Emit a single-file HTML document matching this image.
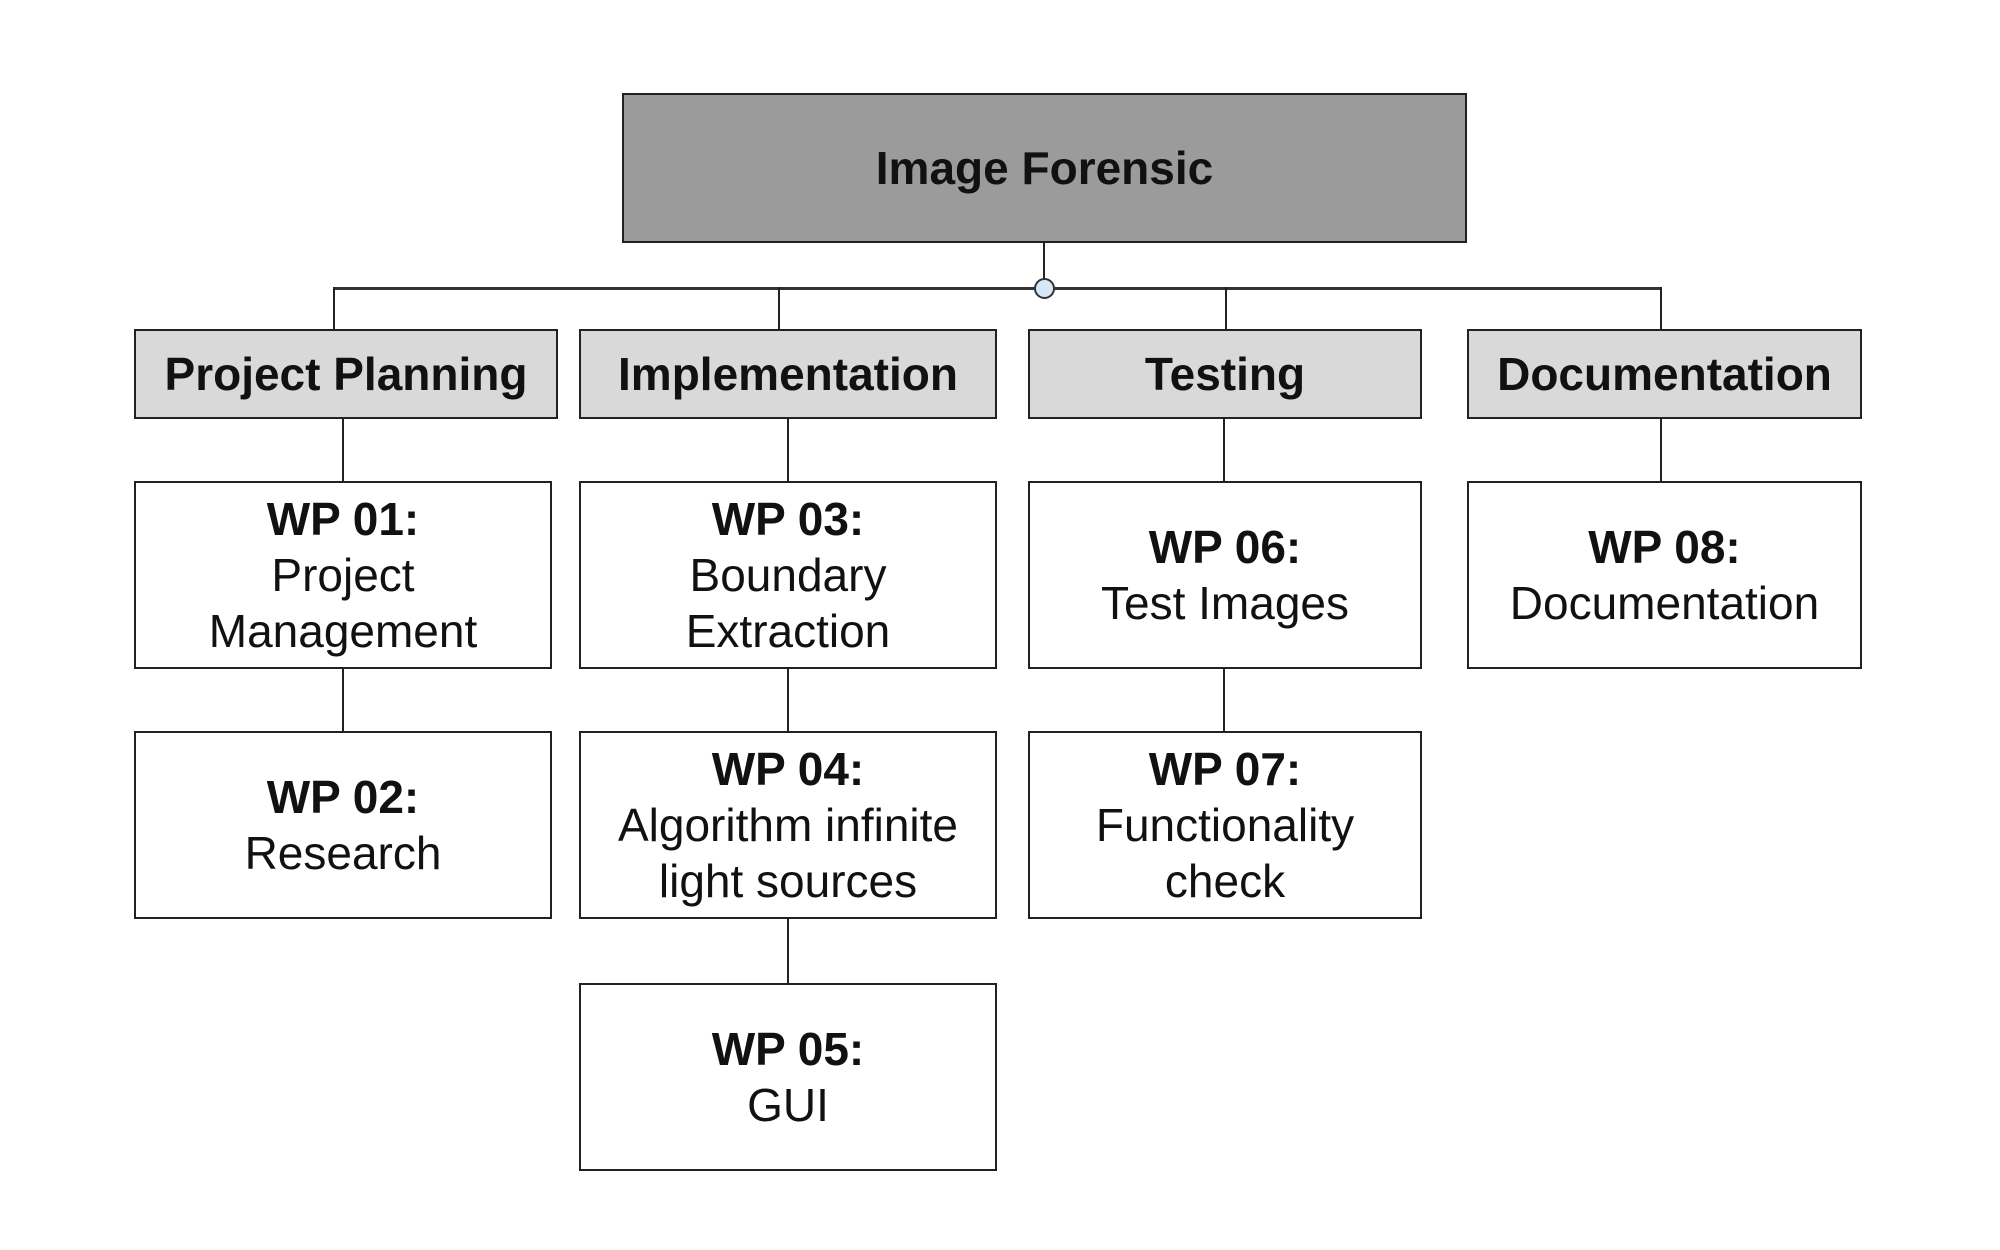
<!DOCTYPE html>
<html><head><meta charset="utf-8"><style>
body{margin:0;width:2000px;height:1250px;background:#fff;position:relative;overflow:hidden;font-family:"Liberation Sans",Arial,sans-serif;color:#111}
.b{position:absolute;box-sizing:border-box;border:2.5px solid #222;display:flex;flex-direction:column;align-items:center;justify-content:center;text-align:center;font-size:46px;line-height:56px;background:#fff}
.h{background:#d9d9d9;font-weight:bold}
.t{background:#9b9b9b;font-weight:bold}
b{font-weight:bold}
.l{position:absolute;background:#222}
</style></head><body>
<div class="l" style="left:1043px;top:242px;width:2px;height:46px"></div>
<div class="l" style="left:333px;top:287px;width:1328px;height:2.5px;background:#333"></div>
<div class="l" style="left:333px;top:287px;width:2px;height:43px"></div>
<div class="l" style="left:778px;top:287px;width:2px;height:43px"></div>
<div class="l" style="left:1225px;top:287px;width:2px;height:43px"></div>
<div class="l" style="left:1660px;top:287px;width:2px;height:43px"></div>
<div style="position:absolute;left:1034px;top:278px;width:17px;height:17px;border:2px solid #333;border-radius:50%;background:#d6e8f7"></div>

<div class="l" style="left:342px;top:418px;width:2px;height:64px"></div>
<div class="l" style="left:342px;top:668px;width:2px;height:64px"></div>
<div class="l" style="left:787px;top:418px;width:2px;height:64px"></div>
<div class="l" style="left:787px;top:668px;width:2px;height:64px"></div>
<div class="l" style="left:787px;top:918px;width:2px;height:66px"></div>
<div class="l" style="left:1223px;top:418px;width:2px;height:64px"></div>
<div class="l" style="left:1223px;top:668px;width:2px;height:64px"></div>
<div class="l" style="left:1660px;top:418px;width:2px;height:64px"></div>

<div class="b t" style="left:622px;top:93px;width:845px;height:150px">Image Forensic</div>

<div class="b h" style="left:134px;top:329px;width:424px;height:90px">Project Planning</div>
<div class="b h" style="left:579px;top:329px;width:418px;height:90px">Implementation</div>
<div class="b h" style="left:1028px;top:329px;width:394px;height:90px">Testing</div>
<div class="b h" style="left:1467px;top:329px;width:395px;height:90px">Documentation</div>

<div class="b" style="left:134px;top:481px;width:418px;height:188px"><b>WP 01:</b>Project<br>Management</div>
<div class="b" style="left:134px;top:731px;width:418px;height:188px"><b>WP 02:</b>Research</div>
<div class="b" style="left:579px;top:481px;width:418px;height:188px"><b>WP 03:</b>Boundary<br>Extraction</div>
<div class="b" style="left:579px;top:731px;width:418px;height:188px"><b>WP 04:</b>Algorithm infinite<br>light sources</div>
<div class="b" style="left:579px;top:983px;width:418px;height:188px"><b>WP 05:</b>GUI</div>
<div class="b" style="left:1028px;top:481px;width:394px;height:188px"><b>WP 06:</b>Test Images</div>
<div class="b" style="left:1028px;top:731px;width:394px;height:188px"><b>WP 07:</b>Functionality<br>check</div>
<div class="b" style="left:1467px;top:481px;width:395px;height:188px"><b>WP 08:</b>Documentation</div>
</body></html>
